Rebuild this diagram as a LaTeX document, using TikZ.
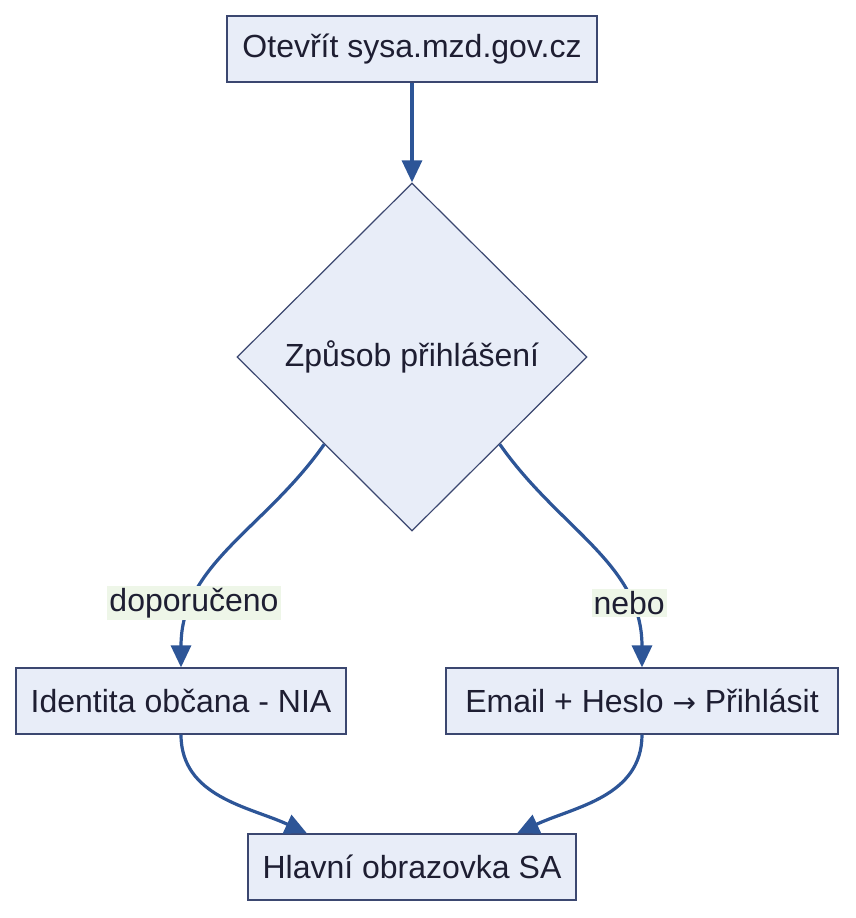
\documentclass[tikz,border=0pt]{standalone}
\usepackage{fontspec}
\setmainfont{Liberation Sans}
\newfontfamily\symfont{DejaVu Sans}
\usetikzlibrary{shapes.geometric,arrows.meta}
\definecolor{boxfill}{HTML}{E8EDF8}
\definecolor{boxline}{HTML}{3B4770}
\definecolor{flowline}{HTML}{2D5597}
\definecolor{lblfill}{HTML}{EEF6E8}
\definecolor{txt}{HTML}{1E1E32}
\tikzset{
  stepbox/.style={draw=boxline,fill=boxfill,line width=1.2pt,minimum height=66pt,text=txt,inner sep=0pt},
  flow/.style={draw=flowline,line width=3.2pt,-{Triangle[length=22pt,width=20pt]}},
  lbl/.style={fill=lblfill,text=txt,inner sep=2pt}
}
\begin{document}
\begin{tikzpicture}[x=1pt,y=1pt,font=\fontsize{32}{38}\selectfont]
    \useasboundingbox(0,0)rectangle(856,-918);
    \node[stepbox,minimum width=370pt](open)at(412,-49){Otevřít sysa.mzd.gov.cz};
    \node[stepbox,shape=diamond,minimum width=350pt,minimum height=348pt](way)at(412,-357){Způsob přihlášení};
    \node[stepbox,minimum width=330pt](nia)at(181,-701){Identita občana - NIA};
    \node[stepbox,minimum width=392pt](mail)at(642,-701){Email + Heslo {\symfont\fontsize{28}{38}\selectfont →} Přihlásit};
    \node[stepbox,minimum width=328pt](home)at(412,-867){Hlavní obrazovka SA};

    \draw[flow](open)--(way);
    \draw[flow](way.south west)to[out=-125,in=90]node[lbl,pos=0.76]{doporučeno}(nia.north);
    \draw[flow](way.south east)to[out=-55,in=90]node[lbl,pos=0.76]{nebo}(mail.north);
    \draw[flow](nia.south)to[out=-90,in=155]([xshift=-105pt]home.north);
    \draw[flow](mail.south)to[out=-90,in=25]([xshift=105pt]home.north);
\end{tikzpicture}
\end{document}
